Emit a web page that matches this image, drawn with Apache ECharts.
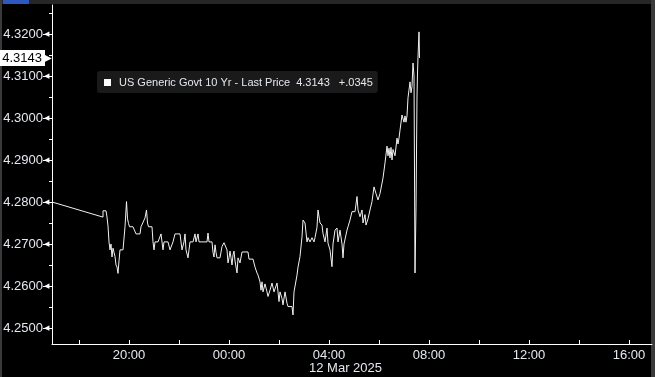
<!DOCTYPE html>
<html>
<head>
<meta charset="utf-8">
<script src="https://cdn.jsdelivr.net/npm/echarts@6/dist/echarts.min.js"></script>
<style>
  html, body { margin: 0; padding: 0; background: #000; }
  #chart { width: 655px; height: 377px; }
</style>
</head>
<body>
<div id="chart"></div>
<script>
// ---- data (hours counted from 11 Mar 2025 00:00) ----
const seriesName = 'US Generic Govt 10 Yr - Last Price';
const lastPrice = 4.3143;
const changeText = '+.0345';
const dateText = '12 Mar 2025';

const hours = [
  16.92, 18.96, 18.96, 19.08, 19.12, 19.16, 19.20, 19.24, 19.28, 19.32,
  19.36, 19.40, 19.44, 19.48, 19.52, 19.56, 19.60, 19.64, 19.76, 19.84,
  19.90, 19.94, 19.98, 20.02, 20.08, 20.16, 20.24, 20.28, 20.44, 20.48,
  20.56, 20.64, 20.70, 20.74, 20.78, 20.92, 20.96, 21.00, 21.04, 21.16,
  21.24, 21.28, 21.32, 21.36, 21.40, 21.56, 21.64, 21.72, 21.76, 21.84,
  22.04, 22.08, 22.12, 22.20, 22.24, 22.28, 22.36, 22.40, 22.44, 22.56,
  22.64, 22.68, 22.76, 22.80, 23.12, 23.16, 23.20, 23.32, 23.36, 23.40,
  23.44, 23.48, 23.52, 23.64, 23.72, 23.80, 23.88, 23.92, 23.96, 24.00,
  24.04, 24.08, 24.12, 24.16, 24.20, 24.24, 24.32, 24.36, 24.44, 24.52,
  24.76, 24.80, 24.96, 25.04, 25.12, 25.16, 25.24, 25.28, 25.32, 25.36,
  25.44, 25.52, 25.56, 25.64, 25.72, 25.80, 25.92, 25.96, 26.00, 26.04,
  26.12, 26.16, 26.24, 26.32, 26.36, 26.52, 26.56, 26.60, 26.72, 26.76,
  26.84, 26.92, 26.96, 27.04, 27.12, 27.16, 27.24, 27.32, 27.40, 27.44,
  27.52, 27.56, 27.64, 27.72, 27.76, 27.84, 27.92, 27.96, 28.04, 28.12,
  28.16, 28.24, 28.32, 28.36, 28.44, 28.52, 28.56, 28.60, 28.72, 28.76,
  28.84, 28.92, 29.04, 29.12, 29.16, 29.24, 29.32, 29.36, 29.44, 29.48,
  29.56, 29.64, 29.72, 29.80, 29.88, 29.92, 29.96, 30.04, 30.12, 30.16,
  30.24, 30.32, 30.36, 30.40, 30.44, 30.48, 30.52, 30.56, 30.64, 30.72,
  30.76, 30.80, 30.84, 30.92, 31.00, 31.04, 31.08, 31.12, 31.16, 31.24,
  31.28, 31.32, 31.36, 31.40, 31.44, 31.48, 31.52, 31.54, 31.56, 31.60,
  31.62
];
const yields = [
  4.2800, 4.2764, 4.2779, 4.2779, 4.2764, 4.2743, 4.2705, 4.2686, 4.2700, 4.2669,
  4.2690, 4.2680, 4.2670, 4.2650, 4.2645, 4.2630, 4.2660, 4.2686, 4.2686, 4.2741,
  4.2801, 4.2760, 4.2749, 4.2741, 4.2745, 4.2741, 4.2741, 4.2724, 4.2724, 4.2741,
  4.2741, 4.2762, 4.2781, 4.2750, 4.2741, 4.2741, 4.2705, 4.2686, 4.2705, 4.2705,
  4.2705, 4.2724, 4.2726, 4.2686, 4.2705, 4.2705, 4.2686, 4.2686, 4.2705, 4.2724,
  4.2724, 4.2705, 4.2686, 4.2705, 4.2724, 4.2686, 4.2667, 4.2686, 4.2705, 4.2705,
  4.2724, 4.2705, 4.2724, 4.2705, 4.2705, 4.2726, 4.2705, 4.2705, 4.2680, 4.2669,
  4.2698, 4.2680, 4.2667, 4.2667, 4.2694, 4.2703, 4.2703, 4.2686, 4.2655, 4.2667,
  4.2683, 4.2667, 4.2650, 4.2674, 4.2683, 4.2660, 4.2631, 4.2667, 4.2655, 4.2681,
  4.2681, 4.2664, 4.2664, 4.2645, 4.2631, 4.2626, 4.2610, 4.2590, 4.2610, 4.2586,
  4.2605, 4.2586, 4.2575, 4.2590, 4.2607, 4.2586, 4.2607, 4.2586, 4.2563, 4.2586,
  4.2570, 4.2555, 4.2586, 4.2559, 4.2551, 4.2551, 4.2531, 4.2586, 4.2626, 4.2645,
  4.2670, 4.2717, 4.2757, 4.2750, 4.2705, 4.2715, 4.2705, 4.2715, 4.2705, 4.2715,
  4.2740, 4.2781, 4.2750, 4.2745, 4.2725, 4.2705, 4.2738, 4.2702, 4.2686, 4.2646,
  4.2700, 4.2733, 4.2738, 4.2705, 4.2733, 4.2700, 4.2667, 4.2700, 4.2733, 4.2741,
  4.2757, 4.2777, 4.2777, 4.2813, 4.2781, 4.2765, 4.2781, 4.2750, 4.2770, 4.2745,
  4.2760, 4.2781, 4.2801, 4.2836, 4.2820, 4.2820, 4.2805, 4.2820, 4.2820, 4.2857,
  4.2893, 4.2933, 4.2910, 4.2928, 4.2905, 4.2930, 4.2900, 4.2925, 4.2910, 4.2952,
  4.2938, 4.2952, 4.2971, 4.3007, 4.2990, 4.3005, 4.2990, 4.3005, 4.3048, 4.3086,
  4.3060, 4.3075, 4.3131, 4.3100, 4.2631, 4.2786, 4.3050, 4.3107, 4.3145, 4.3205,
  4.3143
];

const yMajorTicks = [4.25, 4.26, 4.27, 4.28, 4.29, 4.30, 4.31, 4.32];
const yMinorTicks = [4.255, 4.265, 4.275, 4.285, 4.295, 4.305, 4.315, 4.325];
const xLabelHours = [20, 24, 28, 32, 36, 40];
const xLabelTexts = ['20:00', '00:00', '04:00', '08:00', '12:00', '16:00'];
const xTickHours = [18, 20, 22, 24, 26, 28, 30, 32, 34, 36, 38, 40];

// ---- chart ----
const FONT = '"Liberation Sans", Arial, sans-serif';
const TXT = '#e4e8ef';
const chart = echarts.init(document.getElementById('chart'), null, { renderer: 'canvas' });

const yMin = 4.24619, yMax = 4.3269;
const xMin = 16.92, xMax = 40.92;

chart.setOption({
  backgroundColor: '#000',
  animation: false,
  grid: { left: 52, right: 3, top: 5, bottom: 33, containLabel: false, outerBoundsMode: 'none' },
  legend: {
    left: 97, top: 71,
    orient: 'horizontal',
    backgroundColor: '#1a1a1a',
    borderRadius: 3,
    padding: [6, 5, 5, 7],
    itemWidth: 7, itemHeight: 7,
    data: [{ name: seriesName, icon: 'rect', itemStyle: { color: '#ffffff' } }],
    selectedMode: false,
    formatter: function (name) {
      return '{n|' + name + '}{p|' + lastPrice.toFixed(4) + '}{c|' + changeText + '}';
    },
    textStyle: {
      color: TXT, fontSize: 11, fontFamily: FONT,
      rich: {
        n: { color: TXT, fontSize: 11, fontFamily: FONT, padding: [0, 0, 0, 3] },
        p: { color: TXT, fontSize: 11, fontFamily: FONT, padding: [0, 0, 0, 6] },
        c: { color: TXT, fontSize: 11, fontFamily: FONT, padding: [0, 0, 0, 9] }
      }
    }
  },
  xAxis: [{
    type: 'value', min: xMin, max: xMax,
    axisLine: { show: true, lineStyle: { color: '#ffffff', width: 1 } },
    axisTick: { show: true, inside: true, length: 4, lineStyle: { color: '#ffffff' }, customValues: xTickHours },
    axisLabel: {
      show: true, color: TXT, fontSize: 13, fontFamily: FONT, margin: 5,
      customValues: xLabelHours,
      formatter: function (v) {
        const i = xLabelHours.indexOf(Math.round(v));
        return i >= 0 ? xLabelTexts[i] : '';
      }
    },
    splitLine: { show: false }
  }],
  yAxis: [{
    type: 'value', min: yMin, max: yMax, position: 'left',
    axisLine: { show: true, lineStyle: { color: '#ffffff', width: 1 } },
    axisTick: { show: true, length: 9, lineStyle: { color: '#ffffff' }, customValues: yMajorTicks },
    axisLabel: {
      show: true, color: TXT, fontSize: 13, fontFamily: FONT, margin: 3,
      customValues: yMajorTicks,
      formatter: function (v) { return v.toFixed(4) + '{t|◀}'; },
      rich: { t: { color: '#ffffff', fontSize: 7, padding: [0, 0, 0, 1] } }
    },
    splitLine: { show: false }
  }, {
    type: 'value', min: yMin, max: yMax, position: 'left',
    axisLine: { show: false },
    axisTick: { show: true, length: 3, lineStyle: { color: '#ffffff' }, customValues: yMinorTicks },
    axisLabel: { show: false },
    splitLine: { show: false }
  }, {
    type: 'value', min: yMin, max: yMax, position: 'left',
    axisLine: { show: false },
    axisTick: { show: false },
    splitLine: { show: false },
    axisLabel: {
      show: true, margin: 0,
      customValues: [lastPrice],
      formatter: function (v) { return '{a|' + v.toFixed(4) + '}{b|▶}'; },
      rich: {
        a: { color: '#000', backgroundColor: '#ffffff', fontSize: 13, fontFamily: FONT,
             padding: [2, 3, 1, 3] },
        b: { color: '#ffffff', fontSize: 10, padding: [0, 0, 0, -1] }
      }
    }
  }],
  series: [{
    name: seriesName,
    type: 'line',
    data: hours.map((h, i) => [h, yields[i]]),
    showSymbol: false,
    symbol: 'none',
    lineStyle: { color: '#f2f2f2', width: 1 },
    itemStyle: { color: '#ffffff' },
    clip: true,
    silent: true
  }],
  graphic: [
    { type: 'rect', left: 0, top: 0, shape: { width: 655, height: 4 }, style: { fill: '#262626' }, silent: true },
    { type: 'rect', left: 3, top: 0, shape: { width: 26, height: 4 }, style: { fill: '#2d58c2' }, silent: true },
    { type: 'rect', left: 0, top: 0, shape: { width: 2, height: 377 }, style: { fill: '#3a3a3a' }, silent: true },
    { type: 'rect', left: 651, top: 0, shape: { width: 4, height: 377 }, style: { fill: '#3a3a3a' }, silent: true },
    { type: 'text', left: 309, top: 362, style: { text: dateText, fill: TXT, font: '13px ' + FONT }, silent: true }
  ]
});
</script>
</body>
</html>
